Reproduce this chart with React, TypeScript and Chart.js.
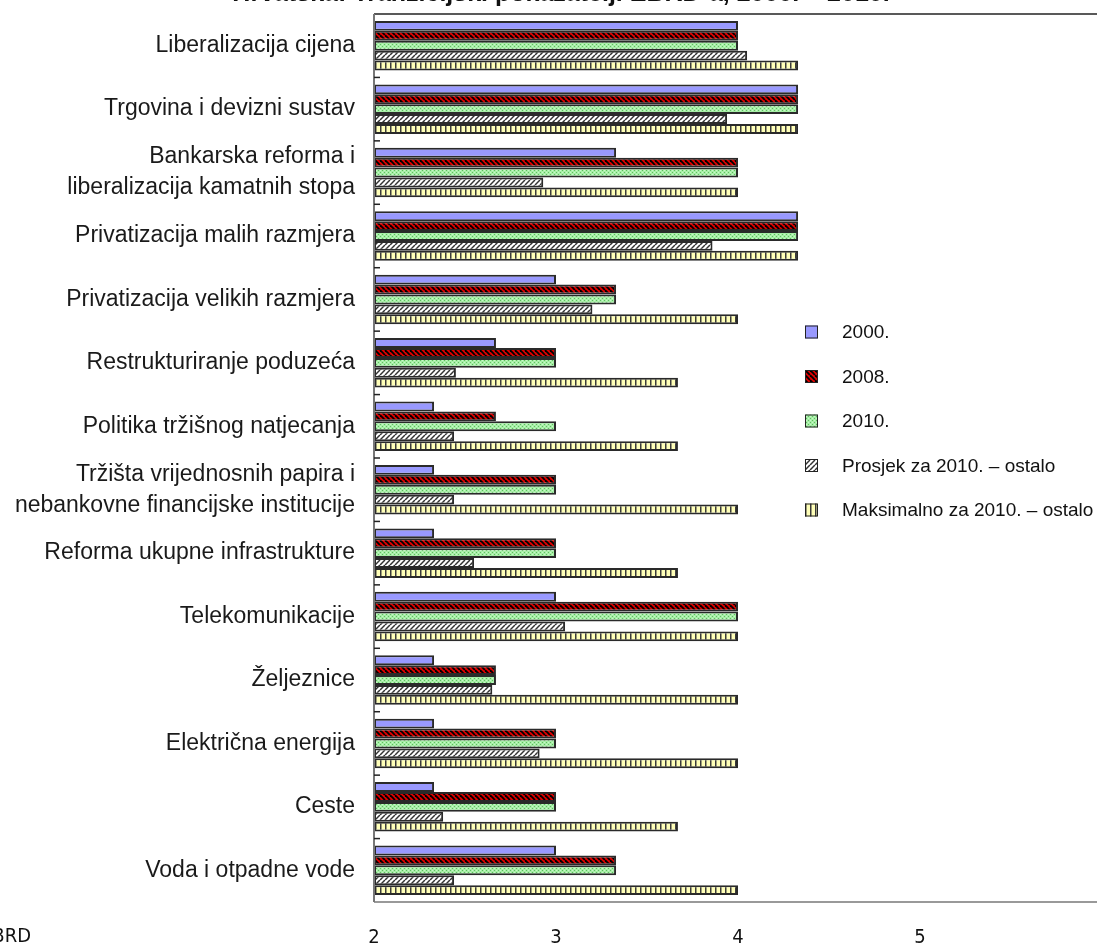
import React, { useEffect, useRef } from "react";
import { Chart, registerables } from "chart.js";

Chart.register(...registerables);

const TITLE = "Hrvatska: Tranzicijski pokazatelji EBRD-a, 2000. – 2010.";
const SOURCE = "Izvor: EBRD";

const CATEGORIES: (string | string[])[] = [
  "Liberalizacija cijena",
  "Trgovina i devizni sustav",
  ["Bankarska reforma i", "liberalizacija kamatnih stopa"],
  "Privatizacija malih razmjera",
  "Privatizacija velikih razmjera",
  "Restrukturiranje poduzeća",
  "Politika tržišnog natjecanja",
  ["Tržišta vrijednosnih papira i", "nebankovne financijske institucije"],
  "Reforma ukupne infrastrukture",
  "Telekomunikacije",
  "Željeznice",
  "Električna energija",
  "Ceste",
  "Voda i otpadne vode",
];

const SERIES_LABELS = [
  "2000.",
  "2008.",
  "2010.",
  "Prosjek za 2010. – ostalo",
  "Maksimalno za 2010. – ostalo",
];

const V2000 = [4, 4.33, 3.33, 4.33, 3, 2.67, 2.33, 2.33, 2.33, 3, 2.33, 2.33, 2.33, 3];
const V2008 = [4, 4.33, 4, 4.33, 3.33, 3, 2.67, 3, 3, 4, 2.67, 3, 3, 3.33];
const V2010 = [4, 4.33, 4, 4.33, 3.33, 3, 3, 3, 3, 4, 2.67, 3, 3, 3.33];
const AVG_OTHERS = [4.05, 3.94, 2.93, 3.86, 3.2, 2.45, 2.44, 2.44, 2.55, 3.05, 2.65, 2.91, 2.38, 2.44];
const MAX_OTHERS = [4.33, 4.33, 4, 4.33, 4, 3.67, 3.67, 4, 3.67, 4, 4, 4, 3.67, 4];

const X_TICKS = [2, 3, 4, 5];
const X_MIN = 2;
const X_MAX = 5.9725;

const LABEL_FONT = "'Liberation Sans', Arial, sans-serif";
const NARROW_FONT = "'DejaVu Sans Condensed', 'Liberation Sans Narrow', 'DejaVu Sans', sans-serif";

function makeTile(w: number, h: number, draw: (c: CanvasRenderingContext2D) => void) {
  const cv = document.createElement("canvas");
  cv.width = w;
  cv.height = h;
  const c = cv.getContext("2d")!;
  draw(c);
  return cv;
}

function buildPatterns(ctx: CanvasRenderingContext2D) {
  const solid = "#9999ff";
  const red = ctx.createPattern(
    makeTile(5, 5, (c) => {
      c.fillStyle = "#dd0000";
      c.fillRect(0, 0, 5, 5);
      c.strokeStyle = "#000";
      c.lineWidth = 1.8;
      for (let k = -1; k <= 1; k++) {
        c.beginPath();
        c.moveTo(k * 5, 0);
        c.lineTo(k * 5 + 5, 5);
        c.stroke();
      }
    }),
    "repeat"
  )!;
  const green = ctx.createPattern(
    makeTile(4, 4, (c) => {
      c.fillStyle = "#a6eea6";
      c.fillRect(0, 0, 4, 4);
      c.fillStyle = "#5fbf5f";
      c.fillRect(0, 0, 1, 1);
      c.fillRect(2, 2, 1, 1);
      c.fillStyle = "#c8f8c8";
      c.fillRect(2, 0, 1, 1);
      c.fillRect(0, 2, 1, 1);
    }),
    "repeat"
  )!;
  const hatch = ctx.createPattern(
    makeTile(5, 5, (c) => {
      c.fillStyle = "#ffffff";
      c.fillRect(0, 0, 5, 5);
      c.strokeStyle = "#333";
      c.lineWidth = 1.5;
      for (let k = -1; k <= 1; k++) {
        c.beginPath();
        c.moveTo(k * 5, 5);
        c.lineTo(k * 5 + 5, 0);
        c.stroke();
      }
    }),
    "repeat"
  )!;
  const yellow = ctx.createPattern(
    makeTile(5, 4, (c) => {
      c.fillStyle = "#ffffb8";
      c.fillRect(0, 0, 5, 4);
      c.fillStyle = "#3a3a3a";
      c.fillRect(0, 0, 1.5, 4);
    }),
    "repeat"
  )!;
  return [solid, red, green, hatch, yellow];
}

export default function App() {
  const ref = useRef<HTMLCanvasElement | null>(null);

  useEffect(() => {
    const canvas = ref.current!;
    const ctx = canvas.getContext("2d")!;
    const fills = buildPatterns(ctx);
    const seriesValues = [V2000, V2008, V2010, AVG_OTHERS, MAX_OTHERS];

    const decorPlugin = {
      id: "decor",
      afterDatasetsDraw(chart: any) {
        const c = chart.ctx;
        const a = chart.chartArea;
        const ys = chart.scales.y;
        c.save();
        c.strokeStyle = "#222";
        c.lineWidth = 1.5;
        c.beginPath();
        c.moveTo(a.left, a.top);
        c.lineTo(a.right, a.top);
        c.stroke();
        c.strokeStyle = "#777";
        c.beginPath();
        c.moveTo(a.left, a.bottom);
        c.lineTo(a.right, a.bottom);
        c.stroke();
        c.lineWidth = 2;
        c.beginPath();
        c.moveTo(a.left, a.top);
        c.lineTo(a.left, a.bottom);
        c.stroke();
        c.strokeStyle = "#222";
        c.lineWidth = 1.5;
        for (let i = 0; i < CATEGORIES.length - 1; i++) {
          const y = (ys.getPixelForValue(i) + ys.getPixelForValue(i + 1)) / 2;
          c.beginPath();
          c.moveTo(a.left, y);
          c.lineTo(a.left + 6, y);
          c.stroke();
        }
        c.restore();
      },
      afterDraw(chart: any) {
        const c = chart.ctx;
        c.save();
        c.fillStyle = "#111";
        c.font = `bold 25px ${LABEL_FONT}`;
        c.textAlign = "center";
        c.textBaseline = "alphabetic";
        c.fillText(TITLE, 561, 1);
        c.font = `20px ${NARROW_FONT}`;
        c.textAlign = "right";
        c.textBaseline = "middle";
        c.fillText(SOURCE, 31, 937);
        const lx = 805;
        const ly0 = 332;
        const step = 44.5;
        chart.data.datasets.forEach((ds: any, i: number) => {
          const y = ly0 + i * step;
          c.fillStyle = ds.backgroundColor;
          c.fillRect(lx, y - 6.5, 13, 13);
          c.strokeStyle = "#222";
          c.lineWidth = 1;
          c.strokeRect(lx + 0.5, y - 6, 12, 12);
          c.fillStyle = "#111";
          c.font = `19px ${LABEL_FONT}`;
          c.textAlign = "left";
          c.textBaseline = "middle";
          c.fillText(ds.label, 842, y + 1);
        });
        c.restore();
      },
    };

    const chart = new Chart(ctx, {
      type: "bar",
      data: {
        labels: CATEGORIES,
        datasets: SERIES_LABELS.map((label, i) => ({
          label,
          data: seriesValues[i],
          backgroundColor: fills[i] as any,
          borderColor: "#2a2a2a",
          borderWidth: 2,
          borderSkipped: false,
          base: X_MIN,
          barPercentage: 1,
          categoryPercentage: 0.78,
        })),
      },
      options: {
        indexAxis: "y",
        responsive: false,
        animation: false,
        devicePixelRatio: 1,
        layout: { padding: { top: 14, left: 0, right: 0, bottom: 0 } },
        plugins: {
          legend: { display: false },
          tooltip: { enabled: false },
          title: { display: false },
        },
        scales: {
          x: {
            type: "linear",
            min: X_MIN,
            max: X_MAX,
            grid: { display: false, drawTicks: false },
            border: { display: false },
            afterBuildTicks: (scale: any) => {
              scale.ticks = X_TICKS.map((v) => ({ value: v }));
            },
            afterFit: (scale: any) => {
              scale.height = 43;
              scale.paddingLeft = 0;
              scale.paddingRight = 0;
            },
            ticks: {
              padding: 24,
              color: "#111",
              font: { family: NARROW_FONT, size: 20, lineHeight: 1.2 },
              callback: (v: any) => String(v),
              maxRotation: 0,
            },
          },
          y: {
            type: "category",
            offset: true,
            grid: { display: false, drawTicks: false },
            border: { display: false },
            afterFit: (scale: any) => {
              scale.width = 374;
              scale.paddingTop = 0;
              scale.paddingBottom = 0;
            },
            ticks: {
              padding: 19,
              color: "#1a1a1a",
              font: { family: LABEL_FONT, size: 23, lineHeight: 1.35 },
              autoSkip: false,
            },
          },
        },
      },
      plugins: [decorPlugin],
    } as any);

    return () => chart.destroy();
  }, []);

  return (
    <div style={{ position: "absolute", left: 0, top: 0, width: 1097, height: 945, background: "#fff" }}>
      <canvas ref={ref} width={1097} height={945} style={{ display: "block", width: 1097, height: 945 }} />
    </div>
  );
}
